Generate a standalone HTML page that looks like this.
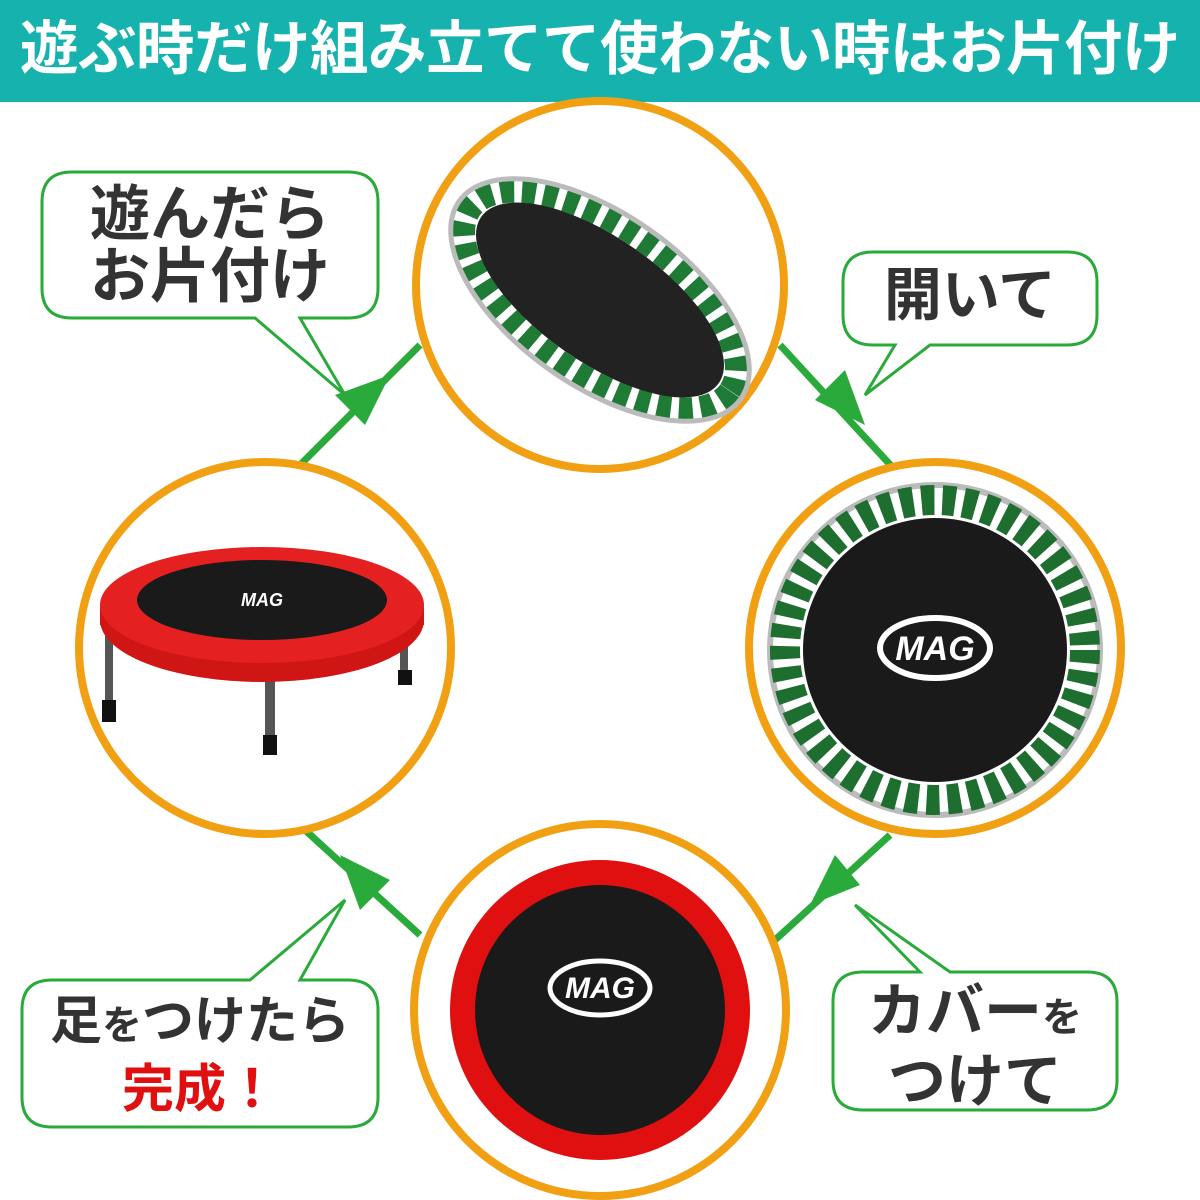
<!DOCTYPE html>
<html><head><meta charset="utf-8"><style>
body{margin:0;width:1200px;height:1200px;background:#fff;overflow:hidden;position:relative;font-family:"Liberation Sans","Noto Sans CJK JP",sans-serif}
.hd{position:absolute;left:0;top:0;width:1200px;height:102px;background:#16b2ae;color:#fff;font-weight:bold;font-size:58.5px;line-height:100px;text-align:center;white-space:nowrap;letter-spacing:-0.5px}
.t{position:absolute;font-weight:bold;color:#333;text-align:center;white-space:nowrap}
</style></head><body>
<div class="hd">遊ぶ時だけ組み立てて使わない時はお片付け</div>
<svg width="1200" height="1200" style="position:absolute;left:0;top:0">
<g stroke="#2aaa3a" stroke-width="7" fill="none">
<line x1="780" y1="345" x2="895" y2="470"/>
<line x1="890" y1="835" x2="775" y2="940"/>
<line x1="420" y1="935" x2="305" y2="830"/>
<line x1="300" y1="465" x2="420" y2="345"/>
</g>
<g fill="#2aaa3a">
<polygon points="865,425 815,400 845,370"/>
<polygon points="810,905 835,855 860,885"/>
<polygon points="340,855 390,880 360,910"/>
<polygon points="390,375 365,425 335,395"/>
</g>
<g fill="#fff" stroke="#2aaa3a" stroke-width="3">
<path d="M72,172 H348 Q378,172 378,202 V288 Q378,318 348,318 H300 L345,395 L255,318 H72 Q42,318 42,288 V202 Q42,172 72,172Z"/>
<path d="M873,252 H1067 Q1097,252 1097,282 V315 Q1097,345 1067,345 H930 L865,395 L895,345 H873 Q843,345 843,315 V282 Q843,252 873,252Z"/>
<path d="M863,972 H920 L855,905 L950,972 H1087 Q1117,972 1117,1002 V1080 Q1117,1110 1087,1110 H863 Q833,1110 833,1080 V1002 Q833,972 863,972Z"/>
<path d="M52,980 H250 L345,900 L300,980 H348 Q378,980 378,1010 V1097 Q378,1127 348,1127 H52 Q22,1127 22,1097 V1010 Q22,980 52,980Z"/>
</g>
<g fill="#fff" stroke="#f0a012" stroke-width="8">
<circle cx="600" cy="285" r="184"/>
<circle cx="935" cy="648" r="186"/>
<circle cx="600" cy="1010" r="186"/>
<circle cx="265" cy="648" r="186"/>
</g>
<g transform="rotate(35 600 300)">
<ellipse cx="600" cy="300" rx="160" ry="75" fill="none" stroke="#1f7a35" stroke-width="26" stroke-dasharray="14 8"/>
<ellipse cx="600" cy="300" rx="145" ry="62" fill="#222"/>
<ellipse cx="600" cy="300" rx="172" ry="86" fill="none" stroke="#bbb" stroke-width="5"/>
</g>
<circle cx="935" cy="650" r="165" fill="none" stroke="#bbb" stroke-width="6"/>
<circle cx="935" cy="650" r="150" fill="none" stroke="#1e6e30" stroke-width="30" stroke-dasharray="13 8"/>
<circle cx="935" cy="650" r="132" fill="#1a1a1a"/>
<ellipse cx="935" cy="648" rx="55" ry="30" fill="none" stroke="#fff" stroke-width="6"/>
<text x="935" y="660" fill="#fff" font-size="34" font-weight="bold" text-anchor="middle" font-style="italic">MAG</text>
<circle cx="600" cy="1010" r="150" fill="#e01010"/>
<circle cx="600" cy="1010" r="125" fill="#1a1a1a"/>
<ellipse cx="600" cy="988" rx="50" ry="27" fill="none" stroke="#fff" stroke-width="5"/>
<text x="600" y="998" fill="#fff" font-size="30" font-weight="bold" text-anchor="middle" font-style="italic">MAG</text>
<g fill="#555">
<rect x="105" y="630" width="8" height="80"/><rect x="265" y="650" width="10" height="100"/><rect x="400" y="630" width="8" height="55"/>
</g>
<rect x="102" y="700" width="14" height="22" fill="#111"/><rect x="263" y="735" width="14" height="20" fill="#111"/><rect x="398" y="670" width="14" height="15" fill="#111"/>
<ellipse cx="262" cy="620" rx="162" ry="62" fill="#d01515"/>
<rect x="100" y="605" width="324" height="20" fill="#d01515"/>
<ellipse cx="262" cy="605" rx="162" ry="58" fill="#e52020"/>
<ellipse cx="262" cy="600" rx="125" ry="40" fill="#1a1a1a"/>
<text x="262" y="606" fill="#fff" font-size="18" font-weight="bold" text-anchor="middle" font-style="italic">MAG</text>
</svg>
<div class="t" style="left:42px;top:184px;width:336px;font-size:60px;line-height:62px">遊んだら<br>お片付け</div>
<div class="t" style="left:843px;top:262px;width:254px;font-size:58px;line-height:68px">開いて</div>
<div class="t" style="left:833px;top:980px;width:284px;font-size:58px;line-height:64px">カバー<span style="font-size:40px">を</span><br>つけて</div>
<div class="t" style="left:22px;top:990px;width:356px;font-size:52px;line-height:64px">足<span style="font-size:40px">を</span>つけたら<br><span style="color:#e01010">完成！</span></div>
</body></html>
